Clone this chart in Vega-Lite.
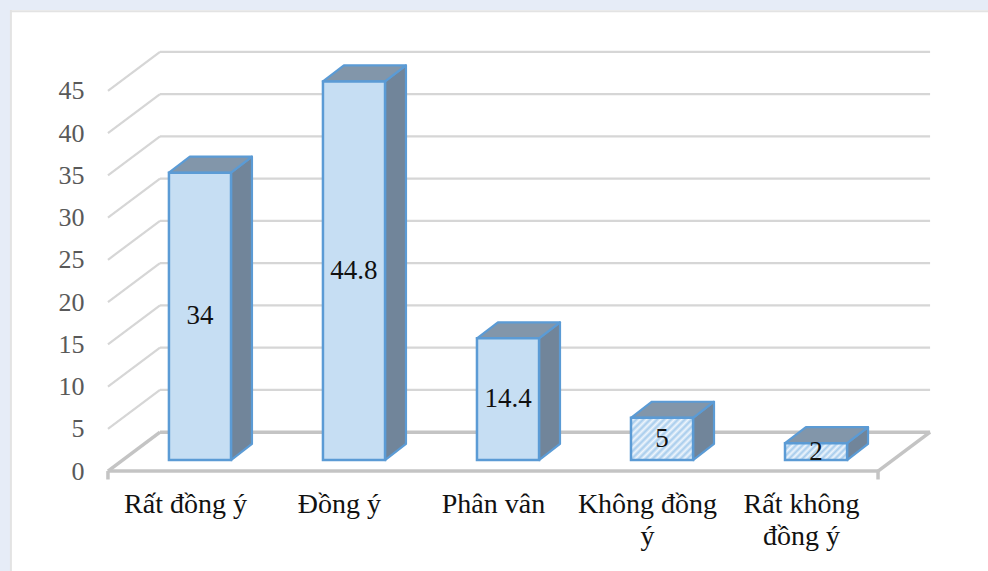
{
"$schema":"https://vega.github.io/schema/vega-lite/v6.json",
"width":978,"height":561,
"autosize":{"type":"none"},
"padding":{"left":10,"top":10,"right":0,"bottom":0},
"background":"#E6ECF7",
"view":{"fill":"#ffffff","stroke":null},
"config":{"font":"Liberation Serif"},
"datasets":{
"bars":[
{"category":"Rất đồng ý","value":34,"index":0},
{"category":"Đồng ý","value":44.8,"index":1},
{"category":"Phân vân","value":14.4,"index":2},
{"category":"Không đồng ý","value":5,"index":3},
{"category":"Rất không đồng ý","value":2,"index":4}
],
"ticks":[{"tick":5},{"tick":10},{"tick":15},{"tick":20},{"tick":25},{"tick":30},{"tick":35},{"tick":40},{"tick":45}],
"edge":[{"edge":"frame"}]
},
"layer":[
{"data":{"name":"edge"},"mark":{"type":"rule","stroke":"#e3e3e3","strokeWidth":2},
 "encoding":{
  "x":{"datum":-0.63,"type":"quantitative","title":null,"scale":{"domain":[-0.636,5.714],"nice":false,"zero":false},
   "axis":{"title":null,"grid":false,"domain":false,"ticks":false,"offset":-81,"labelPadding":0,"labelBaseline":"top","labelBound":false,"labelFlush":false,"labelOverlap":false,"labelFontSize":28,"labelColor":"#111111","labelFont":"Liberation Serif","labelLineHeight":32,
    "values":[0.5,1.5,2.5,3.5,4.5],
    "labelExpr":"datum.value==0.5?'Rất đồng ý':datum.value==1.5?'Đồng ý':datum.value==2.5?'Phân vân':datum.value==3.5?['Không đồng','ý']:['Rất không','đồng ý']"}}
 }},
{"data":{"name":"edge"},"mark":{"type":"rule","stroke":"#e3e3e3","strokeWidth":2},
 "encoding":{
  "y":{"datum":54.4,"type":"quantitative","title":null,"scale":{"domain":[-11.83,54.56],"nice":false,"zero":false},
   "axis":{"title":null,"grid":false,"domain":false,"ticks":false,"offset":-74,"labelPadding":0,"labelFontSize":26,"labelColor":"#595959","labelFont":"Liberation Serif","labelBound":false,"labelFlush":false,"labelOverlap":false,
    "values":[0,5,10,15,20,25,30,35,40,45]}}
 }},
{"data":{"name":"ticks"},
 "transform":[{"calculate":"datum.tick+4.6","as":"back"}],
 "mark":{"type":"rule","stroke":"#d6d6d6","strokeWidth":2.2},
 "encoding":{"x":{"datum":0.338},"x2":{"datum":5.338},"y":{"field":"back","type":"quantitative","title":null},"y2":{"field":"back"}}},
{"data":{"name":"ticks"},
 "transform":[{"calculate":"datum.tick+4.6","as":"back"}],
 "mark":{"type":"rule","stroke":"#d6d6d6","strokeWidth":2.2},
 "encoding":{"x":{"datum":0},"x2":{"datum":0.338},"y":{"field":"tick","type":"quantitative","title":null},"y2":{"field":"back"}}},
{"data":{"name":"edge"},"mark":{"type":"rule","stroke":"#c4c4c4","strokeWidth":3.5},
 "encoding":{"x":{"datum":0},"x2":{"datum":5},"y":{"datum":0},"y2":{"datum":0}}},
{"data":{"name":"edge"},"mark":{"type":"rule","stroke":"#c4c4c4","strokeWidth":3.5},
 "encoding":{"x":{"datum":0.338},"x2":{"datum":5.338},"y":{"datum":4.6},"y2":{"datum":4.6}}},
{"data":{"name":"edge"},"mark":{"type":"rule","stroke":"#c4c4c4","strokeWidth":3.5},
 "encoding":{"x":{"datum":0},"x2":{"datum":0.338},"y":{"datum":0},"y2":{"datum":4.6}}},
{"data":{"name":"edge"},"mark":{"type":"rule","stroke":"#c4c4c4","strokeWidth":3.5},
 "encoding":{"x":{"datum":5},"x2":{"datum":5.338},"y":{"datum":0},"y2":{"datum":4.6}}},
{"data":{"name":"edge"},"mark":{"type":"rule","stroke":"#c4c4c4","strokeWidth":3.5},
 "encoding":{"x":{"datum":0},"y":{"datum":0},"y2":{"datum":-1}}},
{"data":{"name":"edge"},"mark":{"type":"rule","stroke":"#c4c4c4","strokeWidth":3.5},
 "encoding":{"x":{"datum":5},"y":{"datum":0},"y2":{"datum":-1}}},
{"data":{"name":"bars"},
 "transform":[{"calculate":"[0,1]","as":"t"},{"flatten":["t"]},
  {"calculate":"datum.index+0.799+datum.t*0.136","as":"sx"},
  {"calculate":"1.3+datum.t*1.9","as":"sy0"},
  {"calculate":"1.3+datum.value+datum.t*1.9","as":"sy1"}],
 "mark":{"type":"area","orient":"vertical","fill":"#71859a","fillOpacity":1,"stroke":"#5b9bd5","strokeWidth":2.2,"strokeJoin":"round"},
 "encoding":{"x":{"field":"sx","type":"quantitative"},"y":{"field":"sy0","type":"quantitative","title":null},"y2":{"field":"sy1"},"detail":{"field":"category"}}},
{"data":{"name":"bars"},
 "transform":[{"calculate":"[0,1,2,3]","as":"k"},{"flatten":["k"]},
  {"calculate":"datum.index+[0.396,0.532,0.799,0.935][datum.k]","as":"tx"},
  {"calculate":"1.3+datum.value+[0,0,0,1.9][datum.k]","as":"ty0"},
  {"calculate":"1.3+datum.value+[0,1.9,1.9,1.9][datum.k]","as":"ty1"}],
 "mark":{"type":"area","orient":"vertical","fill":"#8296aa","fillOpacity":1,"stroke":"#5b9bd5","strokeWidth":2.2,"strokeJoin":"round"},
 "encoding":{"x":{"field":"tx","type":"quantitative"},"y":{"field":"ty0","type":"quantitative","title":null},"y2":{"field":"ty1"},"detail":{"field":"category"}}},
{"data":{"name":"bars"},
 "transform":[{"filter":"datum.index<3"},{"calculate":"datum.index+0.396","as":"fx0"},{"calculate":"datum.index+0.799","as":"fx1"},{"calculate":"1.3+datum.value","as":"fy1"},{"calculate":"1.3","as":"fy0"}],
 "mark":{"type":"rect","fill":"#c6def3","stroke":"#5b9bd5","strokeWidth":2.5},
 "encoding":{"x":{"field":"fx0","type":"quantitative"},"x2":{"field":"fx1"},"y":{"field":"fy0","type":"quantitative","title":null},"y2":{"field":"fy1"}}},
{"data":{"name":"bars"},
 "transform":[{"filter":"datum.index==3"},{"calculate":"datum.index+0.396","as":"fx0"},{"calculate":"datum.index+0.799","as":"fx1"},{"calculate":"1.3+datum.value","as":"fy1"},{"calculate":"1.3","as":"fy0"}],
 "mark":{"type":"rect","stroke":"#5b9bd5","strokeWidth":2.5,
  "fill":{"gradient":"linear","x1":0,"y1":0,"x2":1.15,"y2":0.78,"stops":[
  {"offset":0,"color":"#a5cbec"},{"offset":0.033,"color":"#eef5fc"},{"offset":0.067,"color":"#a5cbec"},{"offset":0.1,"color":"#eef5fc"},{"offset":0.133,"color":"#a5cbec"},{"offset":0.167,"color":"#eef5fc"},{"offset":0.2,"color":"#a5cbec"},{"offset":0.233,"color":"#eef5fc"},{"offset":0.267,"color":"#a5cbec"},{"offset":0.3,"color":"#eef5fc"},{"offset":0.333,"color":"#a5cbec"},{"offset":0.367,"color":"#eef5fc"},{"offset":0.4,"color":"#a5cbec"},{"offset":0.433,"color":"#eef5fc"},{"offset":0.467,"color":"#a5cbec"},{"offset":0.5,"color":"#eef5fc"},{"offset":0.533,"color":"#a5cbec"},{"offset":0.567,"color":"#eef5fc"},{"offset":0.6,"color":"#a5cbec"},{"offset":0.633,"color":"#eef5fc"},{"offset":0.667,"color":"#a5cbec"},{"offset":0.7,"color":"#eef5fc"},{"offset":0.733,"color":"#a5cbec"},{"offset":0.767,"color":"#eef5fc"},{"offset":0.8,"color":"#a5cbec"},{"offset":0.833,"color":"#eef5fc"},{"offset":0.867,"color":"#a5cbec"},{"offset":0.9,"color":"#eef5fc"},{"offset":0.933,"color":"#a5cbec"},{"offset":0.967,"color":"#eef5fc"},{"offset":1,"color":"#a5cbec"}]}},
 "encoding":{"x":{"field":"fx0","type":"quantitative"},"x2":{"field":"fx1"},"y":{"field":"fy0","type":"quantitative","title":null},"y2":{"field":"fy1"}}},
{"data":{"name":"bars"},
 "transform":[{"filter":"datum.index==4"},{"calculate":"datum.index+0.396","as":"fx0"},{"calculate":"datum.index+0.799","as":"fx1"},{"calculate":"1.3+datum.value","as":"fy1"},{"calculate":"1.3","as":"fy0"}],
 "mark":{"type":"rect","stroke":"#5b9bd5","strokeWidth":2.5,
  "fill":{"gradient":"linear","x1":0,"y1":0,"x2":1.18,"y2":0.32,"stops":[
  {"offset":0,"color":"#a5cbec"},{"offset":0.042,"color":"#eef5fc"},{"offset":0.083,"color":"#a5cbec"},{"offset":0.125,"color":"#eef5fc"},{"offset":0.167,"color":"#a5cbec"},{"offset":0.208,"color":"#eef5fc"},{"offset":0.25,"color":"#a5cbec"},{"offset":0.292,"color":"#eef5fc"},{"offset":0.333,"color":"#a5cbec"},{"offset":0.375,"color":"#eef5fc"},{"offset":0.417,"color":"#a5cbec"},{"offset":0.458,"color":"#eef5fc"},{"offset":0.5,"color":"#a5cbec"},{"offset":0.542,"color":"#eef5fc"},{"offset":0.583,"color":"#a5cbec"},{"offset":0.625,"color":"#eef5fc"},{"offset":0.667,"color":"#a5cbec"},{"offset":0.708,"color":"#eef5fc"},{"offset":0.75,"color":"#a5cbec"},{"offset":0.792,"color":"#eef5fc"},{"offset":0.833,"color":"#a5cbec"},{"offset":0.875,"color":"#eef5fc"},{"offset":0.917,"color":"#a5cbec"},{"offset":0.958,"color":"#eef5fc"},{"offset":1,"color":"#a5cbec"}]}},
 "encoding":{"x":{"field":"fx0","type":"quantitative"},"x2":{"field":"fx1"},"y":{"field":"fy0","type":"quantitative","title":null},"y2":{"field":"fy1"}}},
{"data":{"name":"bars"},
 "transform":[{"calculate":"datum.index+0.5975","as":"cx"},{"calculate":"1.3+datum.value/2","as":"cy"}],
 "mark":{"type":"text","fontSize":27,"color":"#111111","font":"Liberation Serif","baseline":"middle","align":"center"},
 "encoding":{"x":{"field":"cx","type":"quantitative"},"y":{"field":"cy","type":"quantitative","title":null},"text":{"field":"value","type":"nominal"}}}
]
}
